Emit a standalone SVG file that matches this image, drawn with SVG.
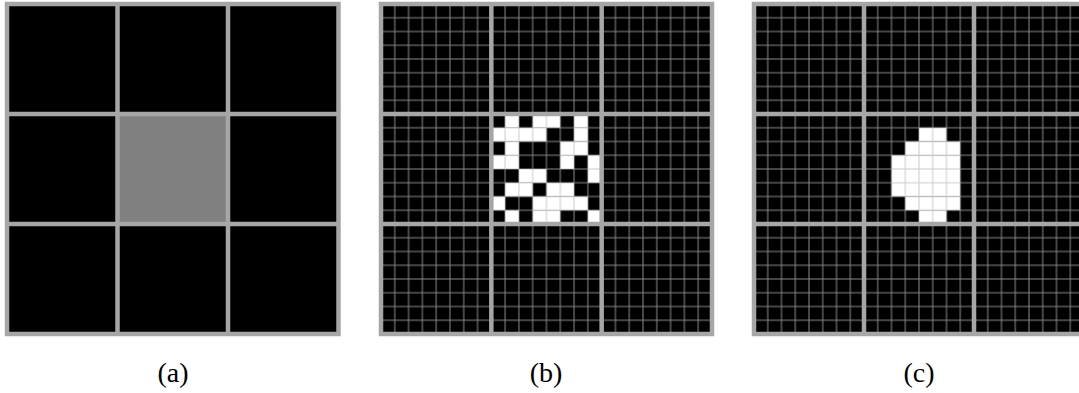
<svg xmlns="http://www.w3.org/2000/svg" width="1079" height="393" viewBox="0 0 1079 393">
<style>
.bg{fill:#000}
.w{fill:#fff}
.frame{fill:none;stroke:#a6a6a6;stroke-width:4.5}
.fine{stroke:#b8b8b8;stroke-opacity:0.75;stroke-width:1;fill:none}
.lbl{font-family:"Liberation Serif","Times New Roman",serif;font-size:28px;fill:#000;text-anchor:middle}
</style>
<defs>
<pattern id="gb" patternUnits="userSpaceOnUse" x="374.105" y="-2.875" width="13.79" height="13.75">
<path class="fine" d="M6.895 0V13.75M0 6.875H13.79"/>
</pattern>
<pattern id="gc" patternUnits="userSpaceOnUse" x="747.125" y="-2.875" width="13.75" height="13.75">
<path class="fine" d="M6.875 0V13.75M0 6.875H13.75"/>
</pattern>
</defs>
<rect width="1079" height="393" fill="#fff"/>

<g id="panel-a">
<rect class="bg" x="7" y="4" width="331.5" height="330"/>
<rect x="117.5" y="114" width="110.5" height="110" fill="#808080"/>
<rect class="frame" x="7" y="4" width="331.5" height="330"/>
<path class="frame" d="M117.5 4V334M228 4V334M7 114H338.5M7 224H338.5"/>
</g>

<g id="panel-b">
<rect class="bg" x="381" y="4" width="331" height="330"/>
<g class="w">
<rect x="505.12" y="114" width="13.79" height="13.75"/>
<rect x="532.70" y="114" width="27.58" height="13.75"/>
<rect x="574.07" y="114" width="13.79" height="13.75"/>
<rect x="491.33" y="127.75" width="55.16" height="13.75"/>
<rect x="574.07" y="127.75" width="13.79" height="13.75"/>
<rect x="505.12" y="141.5" width="13.79" height="13.75"/>
<rect x="560.28" y="141.5" width="27.58" height="13.75"/>
<rect x="491.33" y="155.25" width="27.58" height="13.75"/>
<rect x="560.28" y="155.25" width="13.79" height="13.75"/>
<rect x="587.86" y="155.25" width="13.79" height="13.75"/>
<rect x="518.91" y="169" width="27.58" height="13.75"/>
<rect x="587.86" y="169" width="13.79" height="13.75"/>
<rect x="505.12" y="182.75" width="27.58" height="13.75"/>
<rect x="546.49" y="182.75" width="27.58" height="13.75"/>
<rect x="491.33" y="196.5" width="13.79" height="13.75"/>
<rect x="532.70" y="196.5" width="55.16" height="13.75"/>
<rect x="505.12" y="210.25" width="13.79" height="13.75"/>
<rect x="532.70" y="210.25" width="27.58" height="13.75"/>
<rect x="587.86" y="210.25" width="13.79" height="13.75"/>
</g>
<rect x="381" y="4" width="331" height="330" fill="url(#gb)"/>
<rect class="frame" x="381" y="4" width="331" height="330"/>
<path class="frame" d="M491.33 4V334M601.67 4V334M381 114H712M381 224H712"/>
</g>

<g id="panel-c">
<rect class="bg" x="754" y="4" width="330" height="330"/>
<g class="w">
<rect x="919" y="127.75" width="27.5" height="13.75"/>
<rect x="905.25" y="141.5" width="55" height="13.75"/>
<rect x="891.5" y="155.25" width="68.75" height="41.25"/>
<rect x="905.25" y="196.5" width="55" height="13.75"/>
<rect x="919" y="210.25" width="27.5" height="13.75"/>
</g>
<rect x="754" y="4" width="330" height="330" fill="url(#gc)"/>
<rect class="frame" x="754" y="4" width="330" height="330"/>
<path class="frame" d="M864 4V334M974 4V334M754 114H1084M754 224H1084"/>
</g>

<g id="labels">
<text class="lbl" x="173" y="382">(a)</text>
<text class="lbl" x="546" y="382">(b)</text>
<text class="lbl" x="919" y="382">(c)</text>
</g>
</svg>
